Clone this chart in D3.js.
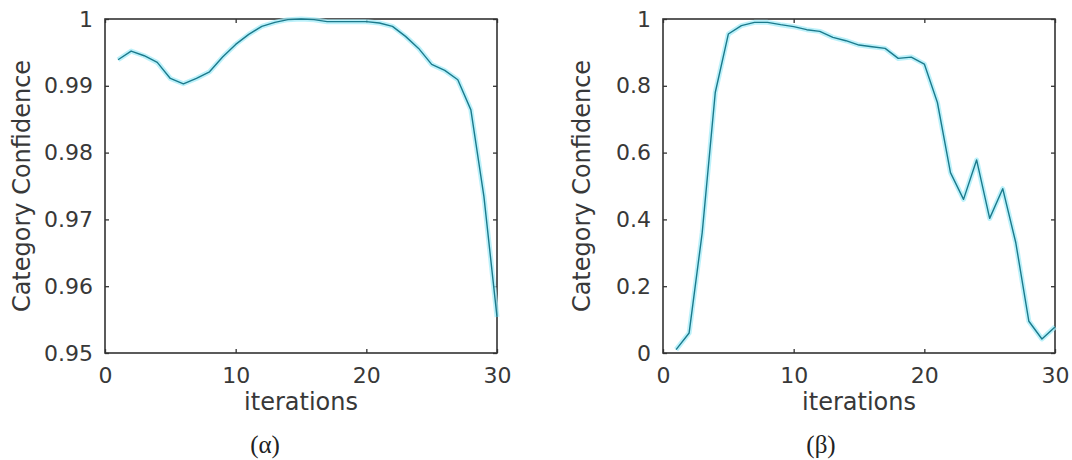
<!DOCTYPE html>
<html>
<head>
<meta charset="utf-8">
<script src="https://cdn.jsdelivr.net/npm/d3@7"></script>
<style>
  body { margin: 0; background: #fff; }
  svg { display: block; }
  .tick text { font-family: "DejaVu Sans", sans-serif; font-size: 22px; fill: #383838; }
  .axis-label { font-family: "DejaVu Sans", sans-serif; font-size: 24px; fill: #383838; }
  .caption { font-family: "Liberation Serif", serif; font-size: 25px; fill: #222; }
</style>
</head>
<body>
<svg></svg>
<script>
const width = 1072
const height = 460

// iterations 1..30
let iterations = d3.range(1, 31)

// panel (α): confidence stays close to 1
let alphaValues = [
    0.9939, 0.9952, 0.9945, 0.9935, 0.9911, 0.9903, 0.9911, 0.9921, 0.9943, 0.9962,
    0.9977, 0.9989, 0.9995, 0.9999, 1.0000, 0.9999, 0.9996, 0.9996, 0.9996, 0.9996,
    0.9994, 0.9989, 0.9974, 0.9956, 0.9932, 0.9923, 0.9909, 0.9864, 0.9734, 0.9554
]

// panel (β): rises, plateaus, then collapses
let betaValues = [
    0.01, 0.06, 0.36, 0.78, 0.955, 0.98, 0.99, 0.99, 0.983, 0.977,
    0.968, 0.963, 0.945, 0.935, 0.922, 0.917, 0.912, 0.882, 0.886, 0.865,
    0.75, 0.54, 0.46, 0.578, 0.403, 0.492, 0.33, 0.095, 0.042, 0.078
]

let xTicks = [0, 10, 20, 30]
let alphaYTicks = [0.95, 0.96, 0.97, 0.98, 0.99, 1]
let betaYTicks = [0, 0.2, 0.4, 0.6, 0.8, 1]

const svg = d3.select('svg')
    .attr('width', width)
    .attr('height', height)

let drawPanel = (opts) => {
    let left = opts.left
    let right = opts.left + 392
    let top = 19
    let bottom = 353

    let xScale = d3.scaleLinear()
                    .domain([0, 30])
                    .range([left, right])

    let yScale = d3.scaleLinear()
                    .domain(opts.yDomain)
                    .range([bottom, top])

    let fmt = (d) => d === 0 || d === 1 ? String(d) : String(+d.toFixed(2))

    // axes, ticks pointing inward like matlab
    svg.append('g')
        .attr('transform', 'translate(0,' + bottom + ')')
        .call(d3.axisBottom(xScale).tickValues(xTicks).tickSize(-4).tickPadding(14).tickFormat(d3.format('d')))
        .call(g => g.select('.domain').remove())
    svg.append('g')
        .attr('transform', 'translate(0,' + top + ')')
        .call(d3.axisTop(xScale).tickValues(xTicks).tickSize(-4).tickFormat(''))
        .call(g => g.select('.domain').remove())
    svg.append('g')
        .attr('transform', 'translate(' + left + ',0)')
        .call(d3.axisLeft(yScale).tickValues(opts.yTicks).tickSize(-4).tickPadding(12).tickFormat(fmt))
        .call(g => g.select('.domain').remove())
    svg.append('g')
        .attr('transform', 'translate(' + right + ',0)')
        .call(d3.axisRight(yScale).tickValues(opts.yTicks).tickSize(-4).tickFormat(''))
        .call(g => g.select('.domain').remove())

    svg.selectAll('.tick line').attr('stroke', '#333').attr('stroke-width', 1.3)

    svg.append('rect')
        .attr('x', left)
        .attr('y', top)
        .attr('width', right - left)
        .attr('height', bottom - top)
        .attr('fill', 'none')
        .attr('stroke', '#333')
        .attr('stroke-width', 1.6)

    let line = d3.line()
                .x((d, i) => xScale(iterations[i]))
                .y((d) => yScale(d))

    // soft cyan glow under the line
    svg.append('path')
        .datum(opts.values)
        .attr('d', line)
        .attr('fill', 'none')
        .attr('stroke', '#a6ecf8')
        .attr('stroke-width', 5)
        .attr('stroke-opacity', 0.75)
        .attr('stroke-linejoin', 'round')

    svg.append('path')
        .datum(opts.values)
        .attr('d', line)
        .attr('fill', 'none')
        .attr('stroke', '#1b7a8c')
        .attr('stroke-width', 1.4)
        .attr('stroke-linejoin', 'round')

    svg.append('text')
        .attr('class', 'axis-label')
        .attr('x', (left + right) / 2)
        .attr('y', 410)
        .attr('text-anchor', 'middle')
        .text('iterations')

    svg.append('text')
        .attr('class', 'axis-label')
        .attr('transform', 'translate(' + opts.labelX + ',' + (top + bottom) / 2 + ') rotate(-90)')
        .attr('text-anchor', 'middle')
        .text('Category Confidence')

    svg.append('text')
        .attr('class', 'caption')
        .attr('x', opts.captionX)
        .attr('y', 453)
        .attr('text-anchor', 'middle')
        .text(opts.caption)
}

drawPanel({ left: 105, yDomain: [0.95, 1], yTicks: alphaYTicks, values: alphaValues, labelX: 30, captionX: 265, caption: '(α)' })
drawPanel({ left: 663, yDomain: [0, 1], yTicks: betaYTicks, values: betaValues, labelX: 590, captionX: 821, caption: '(β)' })
</script>
</body>
</html>
